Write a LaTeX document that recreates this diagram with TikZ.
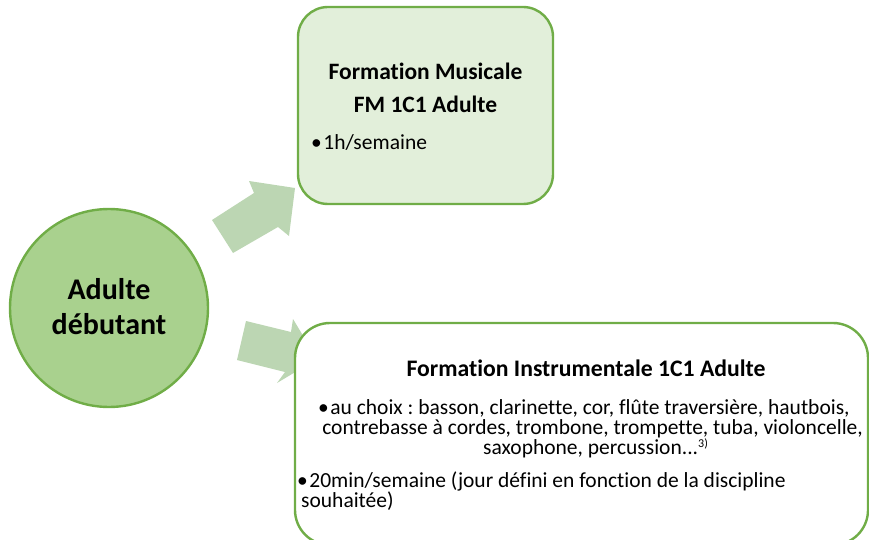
\documentclass[tikz,border=0pt]{standalone}
\usepackage{fontspec}
\setmainfont{Carlito}[Ligatures=NoCommon]
\frenchspacing
\definecolor{gborder}{HTML}{70AD47}
\definecolor{gcircle}{HTML}{A9D18E}
\definecolor{garrow}{HTML}{BCD6B3}
\definecolor{gbox}{HTML}{E2EFDA}
\begin{document}
\begin{tikzpicture}[x=1pt,y=-1pt,
  boxstyle/.style={draw=gborder, line width=2.4pt, rounded corners=30pt, inner sep=0pt},
  arrowshape/.style={fill=garrow, draw=none},
  txt/.style={inner sep=0pt, anchor=base west},
  ctxt/.style={inner sep=0pt, anchor=base},
  bodyfont/.style={font=\fontsize{21.5}{24}\selectfont\frenchspacing},
  topfont/.style={font=\fontsize{21.5}{26}\selectfont},
  titlefont/.style={font=\fontsize{23.5}{28}\selectfont\bfseries},
  btitlefont/.style={font=\fontsize{23.7}{28}\selectfont\bfseries},
  circfont/.style={font=\fontsize{30}{36}\selectfont\bfseries}]
\useasboundingbox (0,0) rectangle (869,540);
% arrows
\coordinate (a1) at (212,220); \coordinate (a2) at (254,193); \coordinate (a3) at (249,181);
\coordinate (a4) at (295,188); \coordinate (a5) at (289,236); \coordinate (a6) at (278,227);
\coordinate (a7) at (233,253);
\fill[arrowshape] (a1) -- (a2) -- (a3) -- (a4) -- (a5) -- (a6) -- (a7) -- cycle;
\coordinate (b1) at (246,321); \coordinate (b2) at (291,332); \coordinate (b3) at (293,319);
\coordinate (b4) at (317,359); \coordinate (b5) at (277,383); \coordinate (b6) at (285,372);
\coordinate (b7) at (237,360);
\fill[arrowshape] (b1) -- (b2) -- (b3) -- (b4) -- (b5) -- (b6) -- (b7) -- cycle;
% circle
\node[circle, draw=gborder, fill=gcircle, line width=2.4pt, minimum size=198pt, inner sep=0pt] (adult) at (109,308) {};
\node[ctxt, circfont] (c1) at (109,299) {Adulte};
\node[ctxt, circfont] (c2) at (109,334) {débutant};
% top box
\node[boxstyle, fill=gbox, minimum width=255pt, minimum height=197pt] (fm) at (425.5,105.5) {};
\node[ctxt, titlefont] (fm1) at (425.5,80) {Formation Musicale};
\node[ctxt, titlefont] (fm2) at (425.5,113) {FM 1C1 Adulte};
\node[txt, topfont] (fm3) at (311,150) {•\hspace{1.5pt}1h/semaine};
% bottom box
\node[boxstyle, fill=white, rounded corners=35pt, minimum width=573pt, minimum height=222pt] (fi) at (581.5,434) {};
\node[ctxt, btitlefont] (fi1) at (586,376) {Formation Instrumentale 1C1 Adulte};
\node[txt, bodyfont] (fi2) at (318,414) {•\hspace{1.5pt}au choix : basson, clarinette, cor, flûte traversière, hautbois,};
\node[ctxt, bodyfont] (fi3) at (592.5,434) {contrebasse à cordes, trombone, trompette, tuba, violoncelle,};
\node[txt, bodyfont] (fi4) at (483,454) {saxophone, percussion...\raisebox{7pt}{\fontsize{12}{14}\selectfont 3)}};
\node[txt, bodyfont] (fi5) at (297,487) {•\hspace{1.5pt}20min/semaine (jour défini en fonction de la discipline};
\node[txt, bodyfont] (fi6) at (301,507) {souhaitée)};
\end{tikzpicture}
\end{document}
